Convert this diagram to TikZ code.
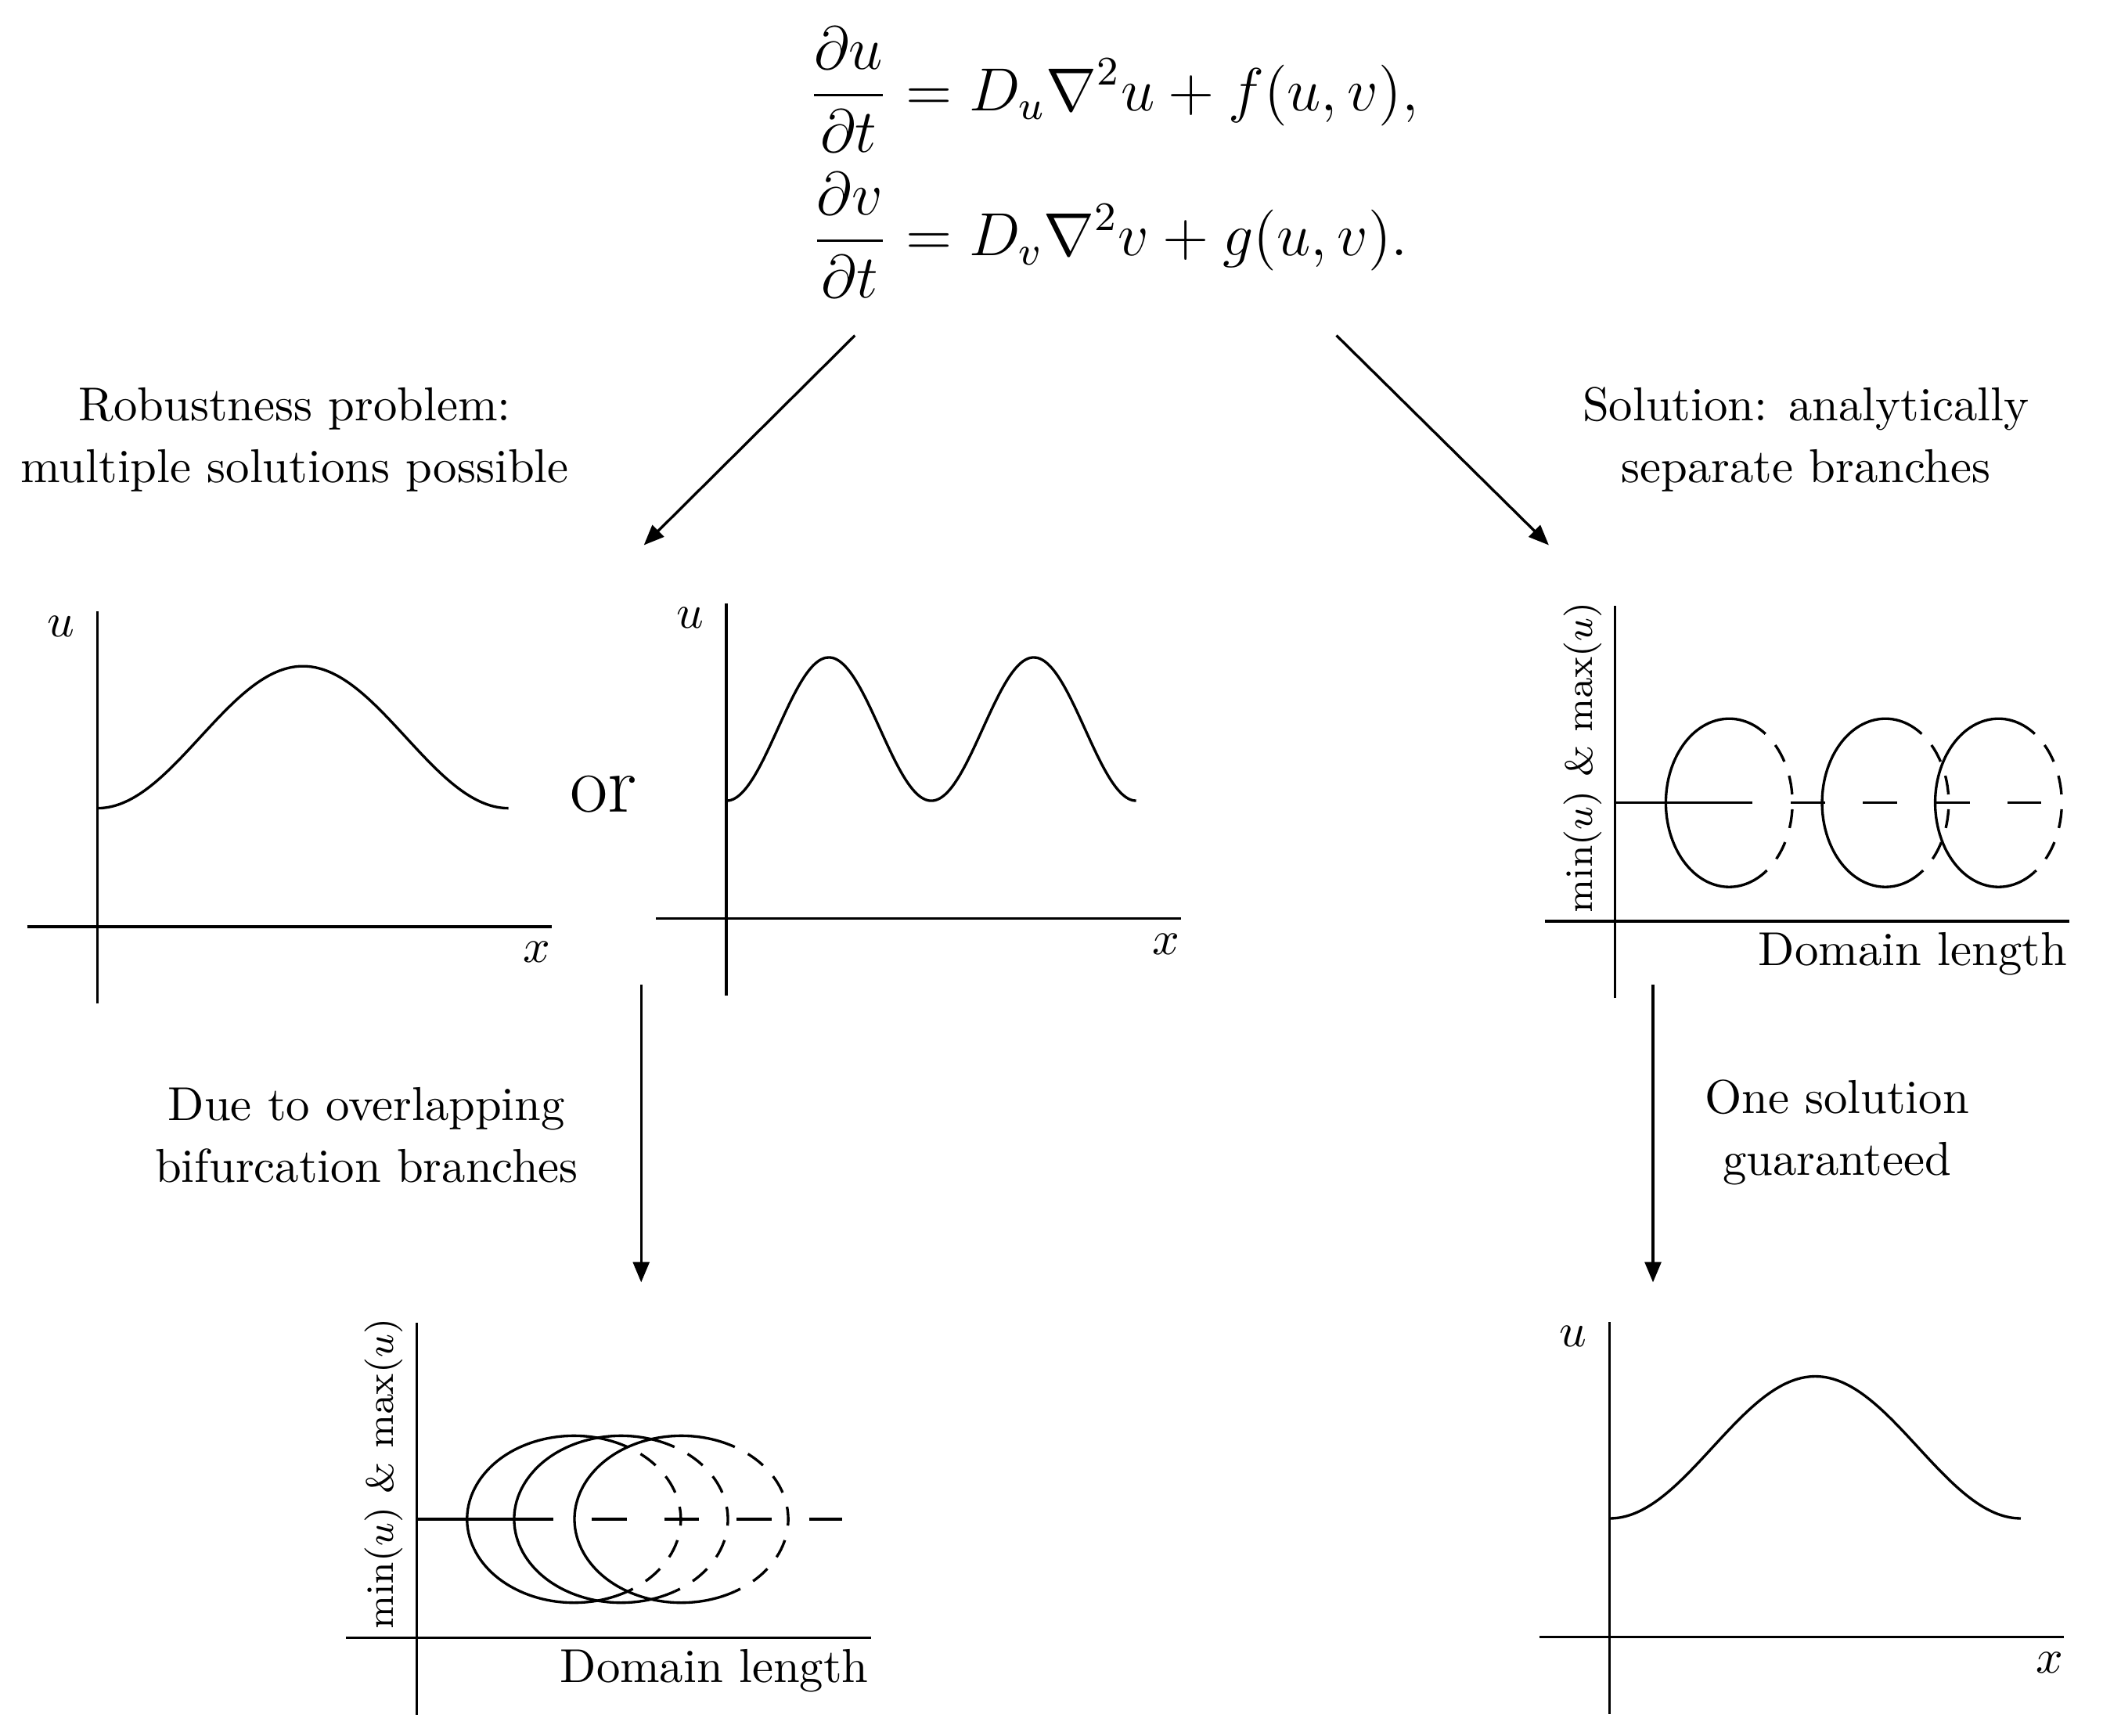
\documentclass[tikz,border=0pt]{standalone}
\usepackage{amssymb}
\usepackage{amsmath}
\usetikzlibrary{calc,arrows.meta}

\tikzset{
	unstable/.style={dash pattern=on 0.255cm off 0.28cm},	%dashed trivial branch
	unstablearc/.style={dash pattern=on 0.14cm off 0.11cm,dash phase=0.14cm},	%dashed part of a loop
	flow/.style={-{Triangle[length=0.15cm,width=0.12cm]}},	%arrows between the panels
	lbl/.style={align=center, inner sep=0pt, font=\fontsize{10}{13}\selectfont}
}

\begin{document}
\begin{tikzpicture}[line width=0.55pt]
	\useasboundingbox (0,0) rectangle (15.68,12.83);
	\def\axes{\draw (-0.52,0) -- (3.36,0); \draw (0,-0.57) -- (0,2.33);}	%axes of every panel
	\def\h{0.875}	%height of the trivial branch
	
	%equations
	\node[transform shape,scale=1.067] (eq) at (8.23,11.63) {\large$\begin{aligned}
		\frac{\partial u}{\partial t} &= D_u\nabla^2 u + f(u,v),\\
		\frac{\partial v}{\partial t} &= D_v\nabla^2 v + g(u,v).
	\end{aligned}$};
	
	\node[lbl] (robust) at (2.18,9.58) {Robustness problem:\\multiple solutions possible};
	\node[lbl] (sol) at (13.35,9.58) {Solution: analytically\\separate branches};
	\node[lbl] (due) at (2.71,4.44) {Due to overlapping\\bifurcation branches};
	\node[lbl] (one) at (13.58,4.46) {One solution\\guaranteed};
	\node[inner sep=0pt] (or) at (4.46,6.96) {\LARGE or};
	
	%panel: one peak
	\begin{scope}[shift={(0.72,5.98)}]
		\axes
		\draw[domain=0:3.04,samples=80,smooth] plot (\x,{1.40-0.525*cos(360*\x/3.04)});
		\node (uA) at (-0.27,2.22) {$u$};
		\node (xA) at (3.25,-0.19) {$x$};
	\end{scope}
	
	%panel: two peaks
	\begin{scope}[shift={(5.37,6.04)}]
		\axes
		\draw[domain=0:3.03,samples=120,smooth] plot (\x,{1.40-0.53*cos(720*\x/3.03)});
		\node (uB) at (-0.27,2.22) {$u$};
		\node (xB) at (3.25,-0.19) {$x$};
	\end{scope}
	
	%panel: separated branches
	\begin{scope}[shift={(11.94,6.02)}]
		\axes
		\draw (0,\h) -- (1.013,\h);
		\draw[unstable] (1.297,\h) -- (3.148,\h);
		\foreach \c in {0.843,1.998,2.834}{
			\draw (\c,\h) ++(55:0.468 and 0.622) arc[start angle=55,end angle=305,x radius=0.468,y radius=0.622];
			\draw[unstablearc] (\c,\h) ++(55:0.468 and 0.622) arc[start angle=55,end angle=-55,x radius=0.468,y radius=0.622];
		}
		\node[rotate=90,anchor=south,inner sep=0pt,font=\footnotesize] (yC) at (-0.09,1.21) {$\min(u)$ \& $\max(u)$};
		\node[anchor=base east,inner sep=0pt] (dC) at (3.35,-0.33) {Domain length};
	\end{scope}
	
	%panel: overlapping branches
	\begin{scope}[shift={(3.08,0.724)}]
		\axes
		\draw (0,\h) -- (1.013,\h);
		\draw[unstable] (1.297,\h) -- (3.148,\h);
		\foreach \c in {1.163,1.511,1.957}{
			\draw (\c,\h) ++(60:0.79 and 0.617) arc[start angle=60,end angle=300,x radius=0.79,y radius=0.617];
			\draw[unstablearc] (\c,\h) ++(60:0.79 and 0.617) arc[start angle=60,end angle=-60,x radius=0.79,y radius=0.617];
		}
		\node[rotate=90,anchor=south,inner sep=0pt,font=\footnotesize] (yD) at (-0.09,1.21) {$\min(u)$ \& $\max(u)$};
		\node[anchor=base east,inner sep=0pt] (dD) at (3.35,-0.33) {Domain length};
	\end{scope}
	
	%panel: the one solution
	\begin{scope}[shift={(11.90,0.73)}]
		\axes
		\draw[domain=0:3.04,samples=80,smooth] plot (\x,{1.40-0.525*cos(360*\x/3.04)});
		\node (uE) at (-0.27,2.22) {$u$};
		\node (xE) at (3.25,-0.19) {$x$};
	\end{scope}
	
	%arrows
	\coordinate (eqL) at (6.32,10.35);
	\coordinate (eqR) at (9.88,10.35);
	\coordinate (toB) at (4.76,8.80);
	\coordinate (toC) at (11.45,8.80);
	\coordinate (fromB) at (4.74,5.55);
	\coordinate (toD) at (4.74,3.35);
	\coordinate (fromC) at (12.22,5.55);
	\coordinate (toE) at (12.22,3.35);
	\draw[flow] (eqL) -- (toB);
	\draw[flow] (eqR) -- (toC);
	\draw[flow] (fromB) -- (toD);
	\draw[flow] (fromC) -- (toE);
\end{tikzpicture}
\end{document}
